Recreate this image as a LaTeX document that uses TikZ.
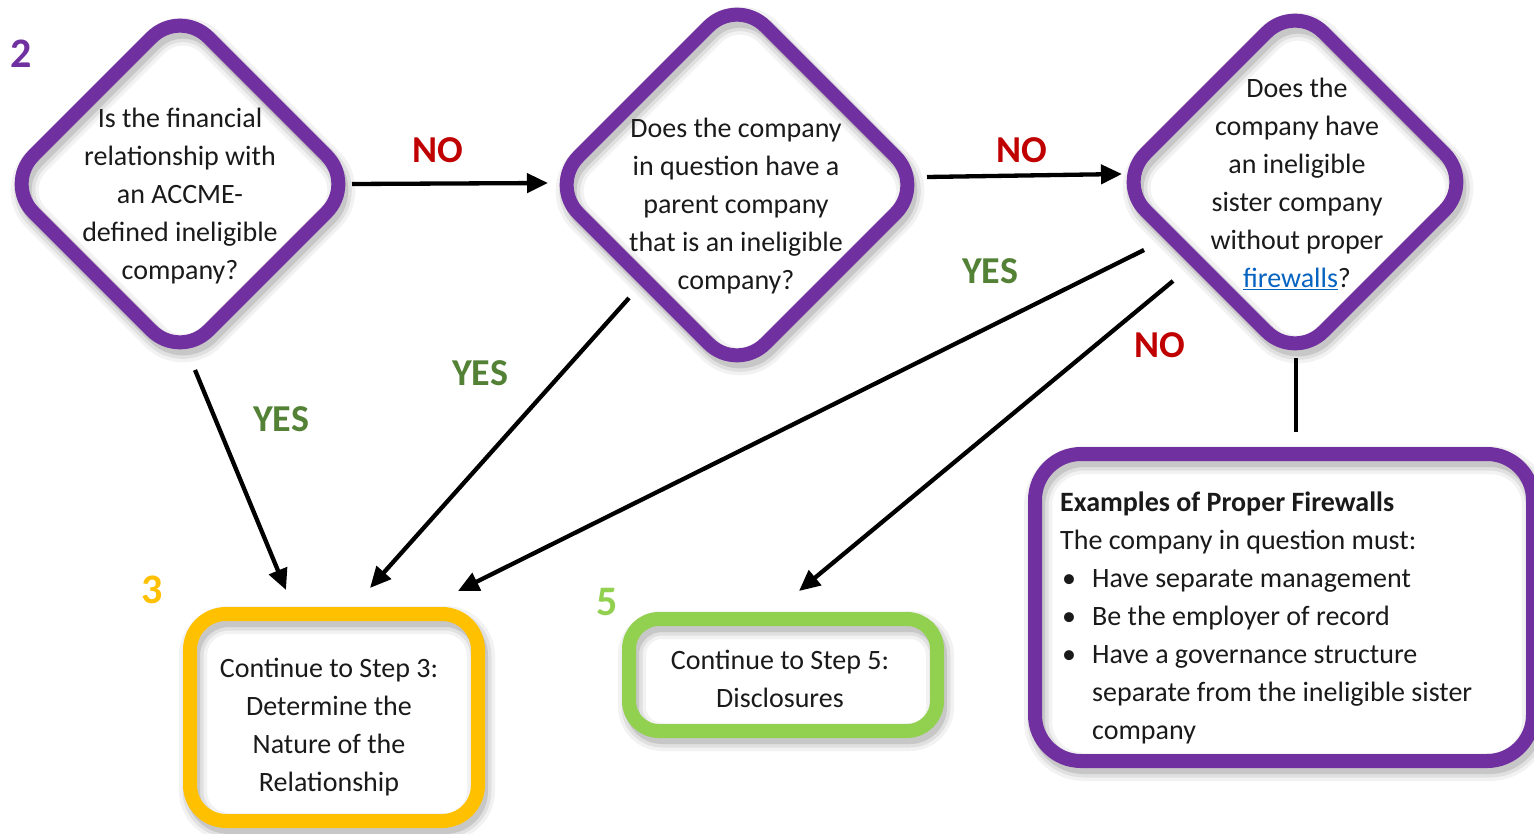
\documentclass[tikz,border=0pt]{standalone}
\usepackage{fontspec}
\setmainfont{Carlito}
\usetikzlibrary{arrows.meta,shapes.geometric}
\definecolor{purp}{HTML}{7030A0}
\definecolor{orng}{HTML}{FFC000}
\definecolor{lgrn}{HTML}{92D050}
\definecolor{nored}{HTML}{C00000}
\definecolor{yesgrn}{HTML}{538135}
\definecolor{linkblue}{HTML}{0563C1}
\definecolor{txtc}{HTML}{1A1A1A}
\begin{document}
\begin{tikzpicture}[x=1pt,y=-1pt,
  shd/.style={
    postaction={draw=black, draw opacity=.05, line width=28pt, transform canvas={xshift=3pt,yshift=-6pt}},
    postaction={draw=black, draw opacity=.07, line width=21pt, transform canvas={xshift=3pt,yshift=-6pt}},
    postaction={draw=black, draw opacity=.11, line width=14pt, transform canvas={xshift=3pt,yshift=-6pt}}},
  ring/.style={postaction={draw=#1, line width=14pt}},
  dia/.style={diamond, inner sep=0pt, rounded corners=40pt, fill=white, shd, ring=purp},
  rbox/.style={rectangle, inner sep=0pt, fill=white, shd, ring=#1},
  txt/.style={font=\fontsize{28}{38}\selectfont, text=txtc, align=center, inner sep=0pt},
  lab/.style={font=\fontsize{38}{38}\selectfont\bfseries, inner sep=0pt},
  num/.style={font=\fontsize{42}{42}\selectfont\bfseries, inner sep=0pt},
  arr/.style={line width=4.3pt, draw=black, -{Triangle[length=21pt,width=19pt]}},
  plain/.style={line width=4.3pt, draw=black}
]
\useasboundingbox (0,0) rectangle (1534,834);
\fill[white] (0,0) rectangle (1534,834);

% decision diamonds
\node[dia, minimum width=350pt, minimum height=350pt] (d1) at (180,184) {};
\node[txt] (d1t) at (180,196) {Is the financial\\relationship with\\an ACCME-\\defined ineligible\\company?};

\node[dia, minimum width=374pt, minimum height=374pt] (d2) at (737,185) {};
\node[txt] (d2t) at (736,206) {Does the company\\in question have a\\parent company\\that is an ineligible\\company?};

\node[dia, minimum width=356pt, minimum height=356pt] (d3) at (1295,182) {};
\node[txt] (d3t) at (1297,184) {Does the\\company have\\an ineligible\\sister company\\without proper\\{\color{linkblue}\underline{firewalls}}?};

% result boxes
\node[rbox=orng, minimum width=288pt, minimum height=207pt, rounded corners=36pt] (b3) at (334,717.5) {};
\node[txt] (b3t) at (329,727) {Continue to Step 3:\\Determine the\\Nature of the\\Relationship};

\node[rbox=lgrn, minimum width=308pt, minimum height=112pt, rounded corners=30pt] (b5) at (783,675) {};
\node[txt] (b5t) at (780,679) {Continue to Step 5:\\Disclosures};

\node[rbox=purp, minimum width=498pt, minimum height=307pt, rounded corners=46pt] (fw) at (1284,607.5) {};
\node[txt, align=left, anchor=north west] (fwt) at (1060,492) {\textbf{Examples of Proper Firewalls}\\
The company in question must:\\
\hspace*{2pt}\makebox[30pt][l]{\textbullet}Have separate management\\
\hspace*{2pt}\makebox[30pt][l]{\textbullet}Be the employer of record\\
\hspace*{2pt}\makebox[30pt][l]{\textbullet}Have a governance structure\\
\hspace*{32pt}separate from the ineligible sister\\
\hspace*{32pt}company};

% step numbers
\node[num, text=purp] (s2) at (21,54) {2};
\node[num, text=orng] (s3) at (152,590) {3};
\node[num, text=lgrn] (s5) at (607,602) {5};

% connector end points
\coordinate (n1s) at (352,184);  \coordinate (n1e) at (548,183);
\coordinate (n2s) at (927,177);  \coordinate (n2e) at (1122,174);
\coordinate (y1s) at (195,370);  \coordinate (y1e) at (286,590);
\coordinate (y2s) at (629,298);  \coordinate (y2e) at (370,588);
\coordinate (y3s) at (1144,250); \coordinate (y3e) at (458,591);
\coordinate (n3s) at (1173,281); \coordinate (n3e) at (799,591);
\coordinate (vs) at (1296,358);  \coordinate (ve) at (1296,432);

\draw[arr] (n1s) -- (n1e);
\draw[arr] (n2s) -- (n2e);
\draw[arr] (y1s) -- (y1e);
\draw[arr] (y2s) -- (y2e);
\draw[arr] (y3s) -- (y3e);
\draw[arr] (n3s) -- (n3e);
\draw[plain] (vs) -- (ve);

% connector labels
\node[lab, text=nored] (lno1) at (438,150) {NO};
\node[lab, text=nored] (lno2) at (1022,150) {NO};
\node[lab, text=nored] (lno3) at (1160,345) {NO};
\node[lab, text=yesgrn] (lyes1) at (281,419) {YES};
\node[lab, text=yesgrn] (lyes2) at (480,373) {YES};
\node[lab, text=yesgrn] (lyes3) at (990,271) {YES};
\end{tikzpicture}
\end{document}
